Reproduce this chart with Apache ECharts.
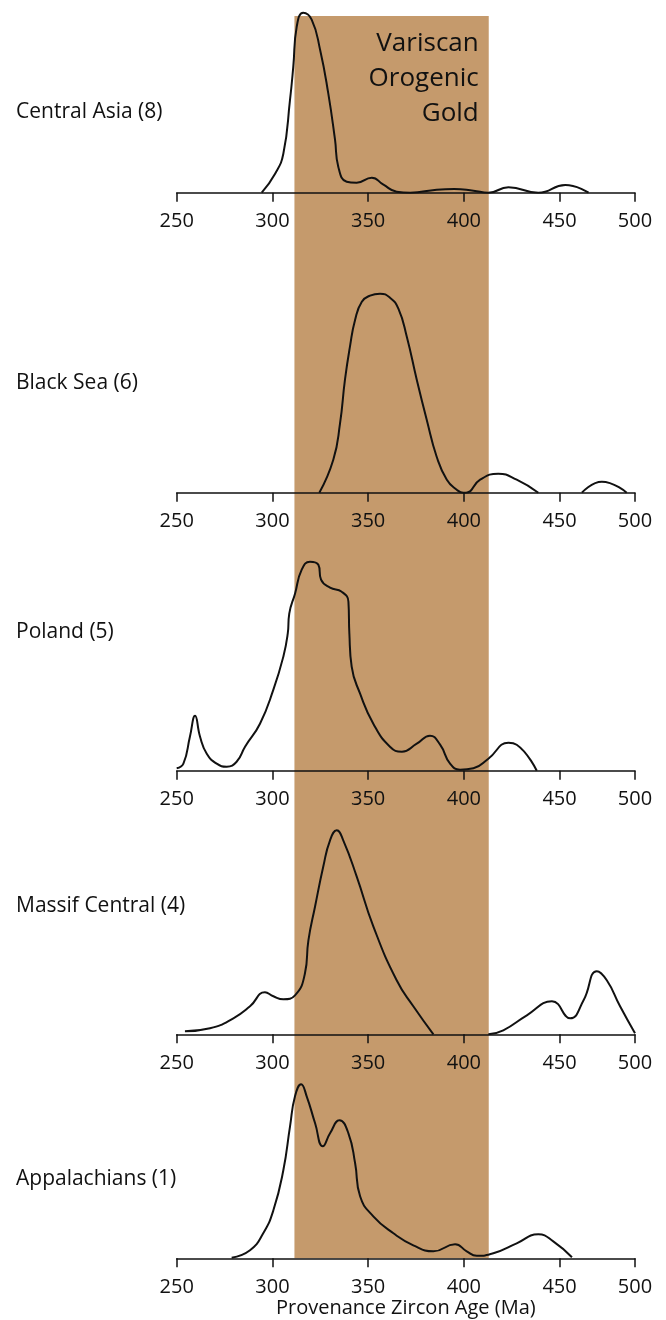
<!DOCTYPE html>
<html>
<head>
<meta charset="utf-8">
<script src="https://cdn.jsdelivr.net/npm/echarts@6/dist/echarts.min.js"></script>
<style>
  html, body { margin: 0; padding: 0; background: #fff; }
  #main { width: 666px; height: 1320px; }
</style>
</head>
<body>
<div id="main"></div>
<script>
// age (Ma), relative density
const centralAsia = [[294.4,0],[301.4,19],[305.7,39],[309.2,93],[310.9,126],[312.7,166],[316.1,180],[320.5,173],[324.9,143],[329.2,99],[332.7,53],[334.4,26],[338.8,11],[344,10],[351.9,15],[358,8],[364.9,1],[372,0],[385.8,3],[395,3.7],[405,2],[412.8,0],[423.3,5.4],[438.9,0],[453.8,7.7],[469.2,0]];
const blackSea = [[324.5,0],[331.8,33],[335.3,69],[337.9,113],[340.5,146],[343.2,173],[346.7,191],[351,197],[356.2,199],[361.4,195],[365.8,184],[370.2,156],[375.4,113],[380.6,73],[385.8,36],[391.1,13],[396.3,3],[399.7,0],[401.2,0],[408.5,13],[418,19],[427.6,13],[438.9,0],'-',[464.8,0],[478,11],[494.5,0]];
const poland = [[250,2.4],[253.5,7],[256.9,34],[259.6,55],[262.2,34],[265.7,17],[270.9,7],[276.1,4],[281.3,9],[285.7,24],[293.5,47],[300.5,81],[305.7,114],[308,137],[308.8,157],[311.8,177],[315.3,201],[319.6,209],[324,206],[325.4,191],[330.1,183],[336.2,179],[339.7,169],[340.2,137],[341.4,104],[345.8,77],[352.7,47],[361.4,24],[367.6,19],[375.4,27],[382.3,35],[387.6,26],[392.8,7],[398,1],[405,2.4],[412.8,12],[423.3,28],[427.6,26],[438.1,0]];
const massifCentral = [[254.3,3],[267.4,6],[279.6,16],[288.3,28],[296.1,42],[300.5,38],[305.7,35],[311.8,39],[317,61],[318.8,94],[322.3,128],[326.6,168],[330.1,194],[333.6,204],[337,194],[344,158],[352.7,108],[364.9,54],[373.6,28],[384.1,0],'-',[412.8,0],[420.6,4],[432.9,19],[446,33],[457.1,16],[465.9,34],[474.7,63],[481.3,54],[490.1,28],[500,1]];
const appalachians = [[278.7,0.6],[288.3,8],[295.2,25],[300.5,48],[305.7,88],[309.2,132],[311.8,162],[315,174],[317.9,162],[322.3,135],[326.3,112],[330.1,125],[335,138],[339.7,125],[343.2,95],[345.8,62],[352.7,42],[363.2,25],[373.6,13],[384.1,7],[395.4,14],[401.5,7],[406.7,2.6],[415.4,5],[427.6,15],[438.9,24],[446.7,17],[458.2,1]];

const panelNames = ["Central Asia (8)", "Black Sea (6)", "Poland (5)", "Massif Central (4)", "Appalachians (1)"];
const panelData = [centralAsia, blackSea, poland, massifCentral, appalachians];
const variscanBand = [311.5, 413];
const bandText = "Variscan\nOrogenic\nGold";
const axisTitle = "Provenance Zircon Age (Ma)";

// layout of the panels (px): baseline y, panel height, label centre y
const baselines = [192.7, 492.7, 770.7, 1034.3, 1258.3];
const heights = [190, 200, 215, 210, 180];
const labelY = [112, 383, 632, 906, 1179];

// the 450-500 step of the original axis is drawn shorter than the others
const SQUEEZE = 39.4 / 50;
function toAxis(v) { return v <= 450 ? v : 450 + (v - 450) * SQUEEZE; }
function fromAxis(v) { return v <= 450 ? v : 450 + (v - 450) / SQUEEZE; }
const AXIS_MAX = toAxis(500);

const FONT = "Open Sans";
const H = 1320;

var myChart = echarts.init(document.getElementById("main"));

const grids = [], xAxes = [], yAxes = [], series = [], titles = [];

panelData.forEach((d, i) => {
  grids.push({ left: 176.7, right: 31, top: baselines[i] - heights[i], bottom: H - baselines[i] });
  xAxes.push({
    gridIndex: i, type: "value", min: 250, max: AXIS_MAX, interval: 50, z: 3,
    axisLine: { show: true, lineStyle: { color: "#111", width: 1.5 } },
    axisTick: { show: true, inside: false, length: 9, lineStyle: { color: "#111", width: 1.5 } },
    axisLabel: { show: true, margin: 19, fontSize: 20, color: "#111", fontFamily: FONT,
      formatter: (v) => String(Math.round(fromAxis(v))) },
    splitLine: { show: false },
    name: i === panelData.length - 1 ? axisTitle : "",
    nameLocation: "middle", nameGap: 40,
    nameTextStyle: { fontSize: 20, color: "#111", fontFamily: FONT },
  });
  yAxes.push({ gridIndex: i, type: "value", min: 0, max: heights[i], show: false });
  series.push({
    type: "line", xAxisIndex: i, yAxisIndex: i, z: 4,
    data: d.map((p) => (p === "-" ? "-" : [toAxis(p[0]), p[1]])),
    smooth: 0.5, symbol: "none", connectNulls: false,
    lineStyle: { color: "#111", width: 2 },
  });
  titles.push({
    text: panelNames[i], left: 16, top: labelY[i] - 14, padding: 0,
    textStyle: { fontSize: 21, fontWeight: "normal", color: "#111", fontFamily: FONT, lineHeight: 28 },
  });
});

// band grid spanning all panels
const bi = panelData.length;
grids.push({ left: 176.7, right: 31, top: 16, bottom: H - baselines[bi - 1] });
xAxes.push({ gridIndex: bi, type: "value", min: 250, max: AXIS_MAX, show: false });
yAxes.push({ gridIndex: bi, type: "value", min: 0, max: 1, show: false });
series.push({
  type: "line", xAxisIndex: bi, yAxisIndex: bi, z: 1, data: [], silent: true,
  markArea: {
    silent: true,
    itemStyle: { color: "#C59A6C", opacity: 1 },
    data: [[{ xAxis: toAxis(variscanBand[0]) }, { xAxis: toAxis(variscanBand[1]) }]],
  },
});

myChart.setOption({
  animation: false,
  title: titles,
  grid: grids,
  xAxis: xAxes,
  yAxis: yAxes,
  series: series,
});

// band caption, right-aligned inside the band's right edge
const bandRight = myChart.convertToPixel({ xAxisIndex: bi }, toAxis(variscanBand[1]));
const bandTop = myChart.convertToPixel({ yAxisIndex: bi }, 1);
myChart.setOption({
  graphic: [{
    type: "text", z: 5, x: bandRight - 10, y: bandTop + 10,
    style: { text: bandText, align: "right", verticalAlign: "top", fontSize: 26, lineHeight: 35,
      fill: "#111", fontFamily: FONT },
  }],
});
</script>
</body>
</html>
